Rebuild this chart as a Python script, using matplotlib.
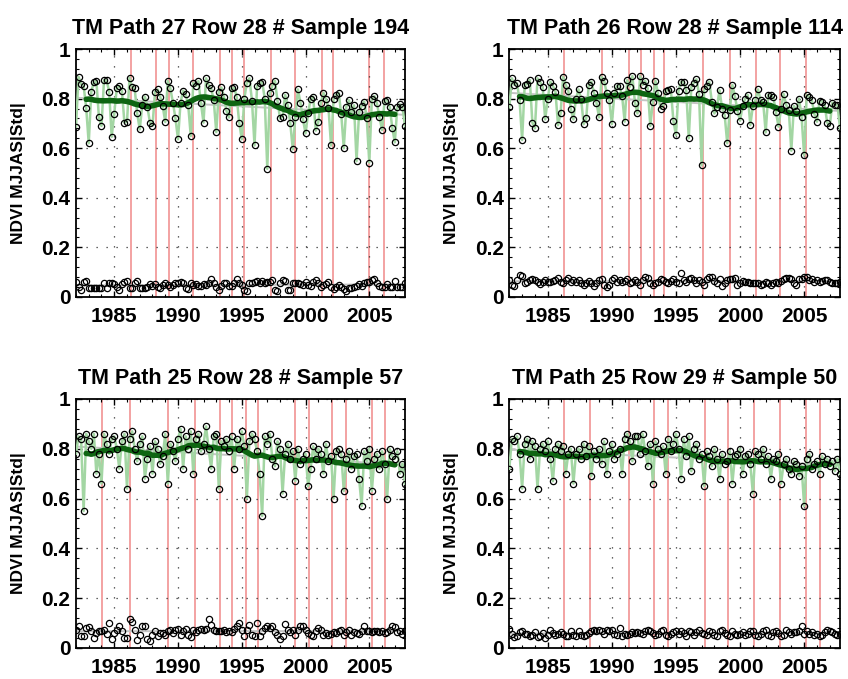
import numpy as np
import pandas as pd
import matplotlib
matplotlib.use("Agg")
import matplotlib.pyplot as plt
from matplotlib.ticker import AutoMinorLocator

plt.rcParams['font.family'] = ['Liberation Sans', 'DejaVu Sans']
plt.rcParams['font.weight'] = 'bold'

# Configuration
YEARS = list(range(1982, 2008))
SAMPLES_PER_YEAR = 5  # May..Sep
TITLES = ["TM Path 27 Row 28 # Sample 194", "TM Path 26 Row 28 # Sample 114",
          "TM Path 25 Row 28 # Sample 57", "TM Path 25 Row 29 # Sample 50"]
YLABEL = "NDVI MJJAS|Std|"
XTICKS = [1985, 1990, 1995, 2000, 2005]
YTICKS = [0, 0.2, 0.4, 0.6, 0.8, 1]
YTICK_LABELS = ["0", "0.2", "0.4", "0.6", "0.8", "1"]

# NDVI values (upper series)
P1_NDVI = [0.687, 0.888, 0.859, 0.851, 0.763, 0.62, 0.828, 0.866, 0.871, 0.724,
           0.69, 0.875, 0.875, 0.828, 0.646, 0.739, 0.843, 0.851, 0.832, 0.703,
           0.707, 0.884, 0.845, 0.841, 0.74, 0.676, 0.774, 0.808, 0.767, 0.703,
           0.69, 0.827, 0.837, 0.808, 0.77, 0.706, 0.871, 0.841, 0.784, 0.72,
           0.636, 0.784, 0.832, 0.817, 0.774, 0.649, 0.864, 0.851, 0.871, 0.781,
           0.703, 0.882, 0.855, 0.841, 0.794, 0.665, 0.828, 0.845, 0.808, 0.751,
           0.724, 0.841, 0.845, 0.808, 0.703, 0.636, 0.8,
           0.864, 0.882, 0.792, 0.611, 0.851, 0.862, 0.868, 0.8, 0.517, 0.821,
           0.852, 0.872, 0.792, 0.72, 0.727, 0.815, 0.774, 0.703, 0.595, 0.724,
           0.837, 0.784, 0.716, 0.66, 0.74, 0.8, 0.808, 0.671, 0.706, 0.781,
           0.824, 0.797, 0.763, 0.611, 0.797, 0.815, 0.824, 0.738, 0.6, 0.767,
           0.794, 0.747, 0.773, 0.548, 0.745, 0.77, 0.788, 0.72, 0.542, 0.797,
           0.81, 0.781, 0.724, 0.673, 0.792, 0.794, 0.767, 0.683, 0.624, 0.767,
           0.777, 0.765, 0.69]
P2_NDVI = [0.765, 0.882, 0.855, 0.862, 0.794, 0.633, 0.855, 0.859, 0.875, 0.703,
           0.68, 0.882, 0.868, 0.848, 0.716, 0.8, 0.868, 0.851, 0.828, 0.693,
           0.74, 0.888, 0.855, 0.832, 0.757, 0.716, 0.8, 0.837, 0.8, 0.697,
           0.72, 0.855, 0.868, 0.824, 0.784, 0.724, 0.888, 0.872, 0.821, 0.794,
           0.697, 0.821, 0.851, 0.851, 0.81, 0.707, 0.875, 0.848, 0.891, 0.784,
           0.74, 0.891, 0.855, 0.872, 0.841, 0.69, 0.787, 0.872, 0.821, 0.76,
           0.77, 0.832, 0.834,
           0.837, 0.711, 0.653, 0.832, 0.868, 0.868, 0.834, 0.64, 0.848, 0.864,
           0.878, 0.819, 0.531, 0.837, 0.851, 0.868, 0.788, 0.74, 0.767, 0.834,
           0.76, 0.734, 0.62, 0.754, 0.855, 0.81, 0.751, 0.711, 0.77, 0.8,
           0.815, 0.693, 0.77, 0.794, 0.837, 0.794, 0.788, 0.664, 0.815, 0.815,
           0.805, 0.747, 0.687, 0.76, 0.819, 0.774, 0.754, 0.59, 0.77, 0.751,
           0.8, 0.727, 0.571, 0.815, 0.808, 0.794, 0.738, 0.707, 0.792, 0.788,
           0.774, 0.703, 0.69, 0.784, 0.774, 0.774, 0.68]
P3_NDVI = [0.78, 0.85, 0.84, 0.55, 0.86,  0.83, 0.80, 0.86, 0.70, 0.78,
           0.66, 0.86, 0.82, 0.78, 0.84,  0.85, 0.80, 0.72, 0.83, 0.86,
           0.64, 0.84, 0.87, 0.80, 0.75,  0.82, 0.85, 0.68, 0.76, 0.81,
           0.70, 0.83, 0.80, 0.74, 0.77,  0.86, 0.66, 0.82, 0.79, 0.75,
           0.84, 0.88, 0.72, 0.85, 0.80,  0.87, 0.70, 0.84, 0.86, 0.79,
           0.82, 0.89, 0.80, 0.72, 0.85,  0.86, 0.64, 0.83, 0.81, 0.84,
           0.79, 0.85, 0.72, 0.84, 0.80,  0.87, 0.81, 0.60, 0.83, 0.86,
           0.84, 0.79, 0.70, 0.53, 0.85,  0.82, 0.86, 0.76, 0.73, 0.83,
           0.80, 0.62, 0.78, 0.82, 0.76,  0.79, 0.67, 0.80, 0.74, 0.76,
           0.78, 0.65, 0.72, 0.81, 0.76,  0.80, 0.78, 0.70, 0.82, 0.75,
           0.77, 0.60, 0.79, 0.80, 0.78,  0.63, 0.76, 0.79, 0.72, 0.77,
           0.78, 0.68, 0.57, 0.79, 0.75,  0.80, 0.63, 0.76, 0.78, 0.72,
           0.79, 0.74, 0.60, 0.80, 0.77,  0.76, 0.79, 0.70, 0.74, 0.66]
P4_NDVI = [0.72, 0.84, 0.83, 0.85, 0.78,  0.64, 0.82, 0.84, 0.76, 0.83,
           0.81, 0.64, 0.80, 0.82, 0.79,  0.83, 0.76, 0.67, 0.80, 0.82,
           0.79, 0.81, 0.70, 0.78, 0.80,  0.66, 0.78, 0.80, 0.76, 0.82,
           0.77, 0.81, 0.69, 0.79, 0.76,  0.80, 0.74, 0.83, 0.70, 0.79,
           0.82, 0.76, 0.78, 0.80, 0.70,  0.84, 0.86, 0.83, 0.75, 0.85,
           0.85, 0.78, 0.86, 0.79, 0.73,  0.82, 0.66, 0.83, 0.80, 0.78,
           0.81, 0.70, 0.84, 0.79, 0.82,  0.86, 0.80, 0.68, 0.84, 0.77,
           0.85, 0.71, 0.80, 0.82, 0.76,  0.78, 0.65, 0.79, 0.77, 0.73,
           0.80, 0.76, 0.68, 0.78, 0.74,  0.75, 0.79, 0.66, 0.77, 0.78,
           0.80, 0.70, 0.77, 0.78, 0.74,  0.62, 0.79, 0.78, 0.76, 0.80,
           0.74, 0.77, 0.68, 0.76, 0.75,  0.78, 0.66, 0.74, 0.76, 0.72,
           0.70, 0.75, 0.74, 0.69, 0.73,  0.57, 0.76, 0.78, 0.72, 0.74,
           0.75, 0.70, 0.77, 0.74, 0.76,  0.73, 0.75, 0.71, 0.76, 0.70]

# Standard deviation values (lower series)
P1_STD = [0.062, 0.042, 0.028, 0.059, 0.066, 0.035, 0.035, 0.038, 0.035, 0.038,
          0.035, 0.055, 0.038, 0.058, 0.058, 0.051, 0.042, 0.028, 0.051, 0.062,
          0.065, 0.035, 0.035, 0.055, 0.065, 0.038, 0.035, 0.035, 0.042, 0.051,
          0.045, 0.052, 0.040, 0.036, 0.050, 0.058, 0.047, 0.040, 0.050, 0.055,
          0.055, 0.062, 0.055, 0.038, 0.031, 0.055, 0.049, 0.051, 0.044, 0.044,
          0.051, 0.049, 0.055, 0.071, 0.055, 0.042, 0.028, 0.044, 0.055, 0.058,
          0.044, 0.044, 0.055, 0.071, 0.058, 0.049, 0.028, 0.024, 0.055, 0.058,
          0.062, 0.066, 0.058, 0.066, 0.058, 0.062, 0.062, 0.068, 0.028, 0.026,
          0.055, 0.068, 0.066, 0.028, 0.028, 0.058, 0.058, 0.055, 0.052, 0.049,
          0.060, 0.050, 0.045, 0.062, 0.070, 0.055, 0.040, 0.048, 0.052, 0.060,
          0.039, 0.032, 0.039, 0.049, 0.042, 0.031, 0.026, 0.035, 0.038, 0.042,
          0.044, 0.052, 0.044, 0.058, 0.062, 0.062, 0.068, 0.071, 0.055, 0.046,
          0.042, 0.042, 0.051, 0.039, 0.042, 0.066, 0.042, 0.042, 0.042, 0.058]
P2_STD = [0.069, 0.048, 0.044, 0.069, 0.089, 0.085, 0.055, 0.062, 0.069, 0.071,
          0.069, 0.062, 0.052, 0.062, 0.069, 0.062, 0.062, 0.065, 0.069, 0.075,
          0.062, 0.058, 0.069, 0.075, 0.062, 0.069, 0.062, 0.069, 0.058, 0.048,
          0.055, 0.066, 0.058, 0.044, 0.055, 0.069, 0.071, 0.048, 0.042, 0.048,
          0.069, 0.075, 0.062, 0.069, 0.062, 0.066, 0.071, 0.055, 0.062, 0.069,
          0.062, 0.048, 0.069, 0.082, 0.075, 0.055, 0.048, 0.055, 0.062, 0.071,
          0.069, 0.062, 0.055, 0.066, 0.071, 0.062, 0.058,
          0.095, 0.069, 0.062, 0.071, 0.075, 0.069, 0.055, 0.069, 0.062, 0.048,
          0.071, 0.082, 0.082, 0.066, 0.058, 0.071, 0.044, 0.055, 0.069, 0.071,
          0.071, 0.075, 0.048, 0.058, 0.066, 0.062, 0.059, 0.058, 0.058, 0.055,
          0.055, 0.048, 0.052, 0.062, 0.055, 0.048, 0.055, 0.062, 0.055, 0.065,
          0.071, 0.075, 0.075, 0.071, 0.055, 0.048, 0.071, 0.071, 0.082, 0.082,
          0.069, 0.071, 0.062, 0.069, 0.062, 0.066, 0.069, 0.069, 0.062, 0.058,
          0.055, 0.055, 0.062]
P3_STD = [0.073, 0.087, 0.05, 0.047, 0.08, 0.083, 0.07, 0.04, 0.06, 0.067,
          0.07, 0.073, 0.058, 0.1, 0.038, 0.06, 0.073, 0.087, 0.07, 0.04,
          0.04, 0.116, 0.103, 0.073, 0.033, 0.054, 0.087, 0.089, 0.038, 0.029,
          0.054, 0.067, 0.047, 0.06, 0.06, 0.054, 0.067, 0.073, 0.06, 0.073,
          0.076, 0.054, 0.067, 0.076, 0.054, 0.044, 0.073, 0.063, 0.073, 0.076,
          0.073, 0.076, 0.116, 0.091, 0.073, 0.067, 0.07, 0.067, 0.073, 0.063,
          0.07, 0.063, 0.076, 0.087, 0.1, 0.073, 0.047, 0.073, 0.093, 0.054,
          0.05, 0.1, 0.05, 0.067, 0.08, 0.087, 0.08, 0.087, 0.063, 0.054,
          0.038, 0.047, 0.096, 0.073, 0.063, 0.073, 0.054, 0.073, 0.087, 0.087,
          0.073, 0.06, 0.054, 0.047, 0.07, 0.08, 0.073, 0.054, 0.06, 0.054,
          0.058, 0.063, 0.06, 0.067, 0.073, 0.054, 0.063, 0.073, 0.054, 0.063,
          0.06, 0.058, 0.067, 0.087, 0.07, 0.067, 0.063, 0.067, 0.07, 0.063,
          0.067, 0.06, 0.063, 0.073, 0.087, 0.083, 0.063, 0.07, 0.058, 0.07]
P4_STD = [0.076, 0.057, 0.044, 0.049, 0.063, 0.067, 0.057, 0.057, 0.049, 0.053,
          0.063, 0.044, 0.049, 0.060, 0.040, 0.053, 0.073, 0.060, 0.053, 0.057,
          0.063, 0.057, 0.047, 0.049, 0.067, 0.053, 0.047, 0.067, 0.053, 0.049,
          0.053, 0.060, 0.067, 0.071, 0.067, 0.073, 0.067, 0.057, 0.071, 0.067,
          0.071, 0.057, 0.053, 0.080, 0.047, 0.057, 0.053, 0.057, 0.063, 0.060,
          0.063, 0.060, 0.057, 0.067, 0.071, 0.067, 0.060, 0.053, 0.057, 0.067,
          0.073, 0.053, 0.049, 0.057, 0.063, 0.067, 0.057, 0.067, 0.060, 0.049,
          0.067, 0.063, 0.053, 0.063, 0.071, 0.060, 0.057, 0.053, 0.067, 0.063,
          0.053, 0.047, 0.067, 0.073, 0.060, 0.053, 0.049, 0.067, 0.057, 0.053,
          0.057, 0.063, 0.053, 0.057, 0.067, 0.067, 0.053, 0.047, 0.057, 0.067,
          0.071, 0.053, 0.047, 0.063, 0.067, 0.060, 0.049, 0.053, 0.071, 0.063,
          0.057, 0.063, 0.063, 0.067, 0.090, 0.057, 0.067, 0.057, 0.063, 0.053,
          0.057, 0.049, 0.053, 0.063, 0.073, 0.067, 0.063, 0.057, 0.053, 0.057]

# Breakpoint dates (red vertical lines)
P1_BREAKS = [1986.3, 1988.3, 1989.3, 1991.2, 1993.3, 1994.2, 1995.2, 1997.3,
             1999.15, 2001.3, 2002.15, 2005.0, 2006.15]
P2_BREAKS = [1986.3, 1989.25, 1991.3, 1992.3, 1993.3, 1994.1, 1997.1, 1999.25,
             2001.25, 2003.15, 2005.15]
P3_BREAKS = [1984.05, 1986.2, 1989.2, 1991.3, 1993.3, 1994.25, 1995.35, 1996.25,
             1999.15, 2000.25, 2002.05, 2003.15, 2005.25, 2006.25]
P4_BREAKS = [1986.3, 1988.3, 1991.3, 1993.3, 1994.35, 1997.3, 1999.05, 2001.05,
             2003.15, 2005.15, 2006.2]

# Axes rectangles (left, bottom, width, height) in figure fractions
AX_RECTS = [[0.0896, 0.5626, 0.3880, 0.3652], [0.6006, 0.5626, 0.3900, 0.3652],
            [0.0896, 0.0457, 0.3880, 0.3667], [0.6006, 0.0457, 0.3900, 0.3667]]


def draw_panel(ax, title, ndvi, std, breaks):
    x = np.array([y + k / SAMPLES_PER_YEAR for y in YEARS for k in range(SAMPLES_PER_YEAR)])
    ndvi = np.asarray(ndvi)
    std = np.asarray(std)

    for b in breaks:
        ax.axvline(b, color='#f29b9b', lw=1.3, zorder=1)

    # linear trends (light grey)
    for series in (ndvi, std):
        coef = np.polyfit(x, series, 1)
        ax.plot(x, np.polyval(coef, x), color='#c4c4c4', lw=1.4, zorder=2)

    ax.plot(x, ndvi, color='#a3d6a3', lw=1.8, zorder=3)
    # smoothed curve (moving average of the NDVI series)
    s = pd.Series(ndvi)
    smooth = s.rolling(11, center=True, min_periods=9).mean()
    smooth = smooth.rolling(5, center=True, min_periods=4).mean()
    ax.plot(x, smooth, color='#0e6512', lw=4.0, zorder=4, solid_capstyle='round')
    ax.plot(x, ndvi, ls='none', marker='o', ms=4.5, mfc='none', mec='black', mew=0.9, zorder=5)
    ax.plot(x, std, ls='none', marker='o', ms=4.5, mfc='none', mec='black', mew=0.9, zorder=5)

    ax.set_xlim(YEARS[0], YEARS[-1] + (SAMPLES_PER_YEAR - 1) / SAMPLES_PER_YEAR)
    ax.set_ylim(0, 1)
    ax.set_xticks(XTICKS)
    ax.set_yticks(YTICKS)
    ax.set_yticklabels(YTICK_LABELS)
    ax.xaxis.set_minor_locator(AutoMinorLocator(5))
    ax.yaxis.set_minor_locator(AutoMinorLocator(5))
    ax.tick_params(which='both', direction='in', top=True, right=True, labelsize=15)
    ax.tick_params(which='major', length=4, width=1.0)
    ax.tick_params(which='minor', length=2.5, width=0.8)
    ax.tick_params(axis='x', pad=7)
    ax.tick_params(axis='y', pad=4)
    ax.grid(True, which='major', color='#333333', lw=0.9, linestyle=(0, (1, 7)))
    for sp in ax.spines.values():
        sp.set_linewidth(1.3)
    ax.set_title(title, fontsize=15.5, fontweight='bold', pad=11)
    ax.set_ylabel(YLABEL, fontsize=12.5, fontweight='bold')
    ax.yaxis.set_label_coords(-0.152, 0.5)


fig = plt.figure(figsize=(8.48, 6.79), dpi=100)
panels = [(P1_NDVI, P1_STD, P1_BREAKS), (P2_NDVI, P2_STD, P2_BREAKS),
          (P3_NDVI, P3_STD, P3_BREAKS), (P4_NDVI, P4_STD, P4_BREAKS)]
for rect, title, (ndvi, std, breaks) in zip(AX_RECTS, TITLES, panels):
    ax = fig.add_axes(rect)
    draw_panel(ax, title, ndvi, std, breaks)

fig.savefig("out.png", dpi=100)
